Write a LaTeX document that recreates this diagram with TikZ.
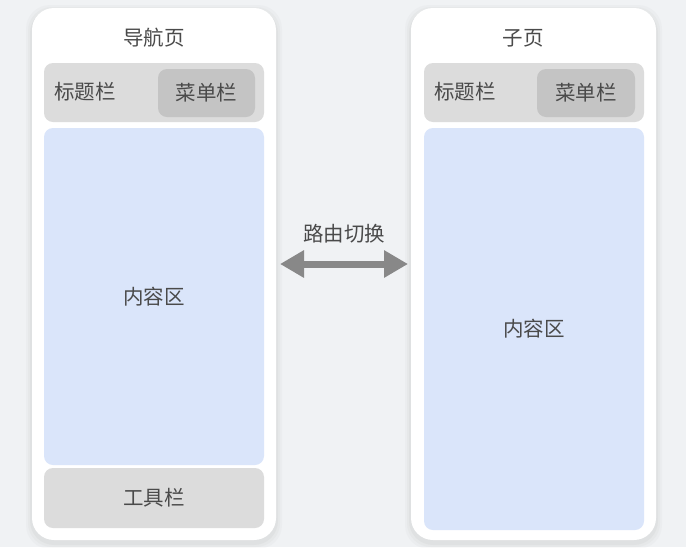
\documentclass[tikz,border=0pt]{standalone}
\usepackage{fontspec}
\setmainfont{Noto Sans CJK SC}
\usetikzlibrary{arrows.meta}
\definecolor{bg}{HTML}{F0F2F4}
\definecolor{bar}{HTML}{DCDCDC}
\definecolor{menu}{HTML}{C4C4C4}
\definecolor{content}{HTML}{DAE5FA}
\definecolor{txt}{HTML}{4A4A4A}
\definecolor{arr}{HTML}{888888}
\tikzset{
  phone/.style={fill=white, rounded corners=22pt, draw=none},
  barbox/.style={fill=bar, rounded corners=9pt, draw=none},
  menubox/.style={fill=menu, rounded corners=9pt, draw=none},
  contentbox/.style={fill=content, rounded corners=9pt, draw=none},
  lbl/.style={text=txt, font=\fontsize{20.5pt}{22pt}\selectfont, inner sep=0pt},
}
\begin{document}
\begin{tikzpicture}[x=1pt,y=-1pt]
\useasboundingbox (0,0) rectangle (686,547);
\fill[bg] (0,0) rectangle (686,547);
% shadows
\foreach \d/\o in {6/0.05,4/0.06,2/0.08}{
  \fill[black!40, opacity=\o, rounded corners=24pt] (32-\d,8-\d+3) rectangle (276+\d,540+\d+3);
  \fill[black!40, opacity=\o, rounded corners=24pt] (411-\d,8-\d+3) rectangle (656+\d,540+\d+3);
}
% left phone
\node[phone, minimum width=244pt, minimum height=532pt, inner sep=0pt] (lp) at (154,274) {};
\node[lbl] (lt) at (154,38) {导航页};
\node[barbox, minimum width=220pt, minimum height=59pt, inner sep=0pt] (lh) at (154,92.5) {};
\node[menubox, minimum width=97pt, minimum height=48pt, inner sep=0pt] (lm) at (206.5,93) {};
\node[lbl] at (85,92) {标题栏};
\node[lbl] at (lm) {菜单栏};
\node[contentbox, minimum width=220pt, minimum height=337pt, inner sep=0pt] (lc) at (154,296.5) {};
\node[lbl] at (lc) {内容区};
\node[barbox, minimum width=220pt, minimum height=60pt, inner sep=0pt] (lb) at (154,498) {};
\node[lbl] at (lb) {工具栏};
% right phone
\node[phone, minimum width=245pt, minimum height=532pt, inner sep=0pt] (rp) at (533.5,274) {};
\node[lbl] (rt) at (523,38) {子页};
\node[barbox, minimum width=220pt, minimum height=59pt, inner sep=0pt] (rh) at (534,92.5) {};
\node[menubox, minimum width=98pt, minimum height=48pt, inner sep=0pt] (rm) at (586,93) {};
\node[lbl] at (465,92) {标题栏};
\node[lbl] at (rm) {菜单栏};
\node[contentbox, minimum width=220pt, minimum height=402pt, inner sep=0pt] (rc) at (534,329) {};
\node[lbl] at (rc) {内容区};
% arrow
\coordinate (a1) at (280,264);
\coordinate (a2) at (408,264);
\draw[arr, line width=7pt, {Triangle[length=24pt,width=26pt]}-{Triangle[length=24pt,width=26pt]}] (a1) -- (a2);
\node[lbl] (al) at (344,234) {路由切换};
\end{tikzpicture}
\end{document}
